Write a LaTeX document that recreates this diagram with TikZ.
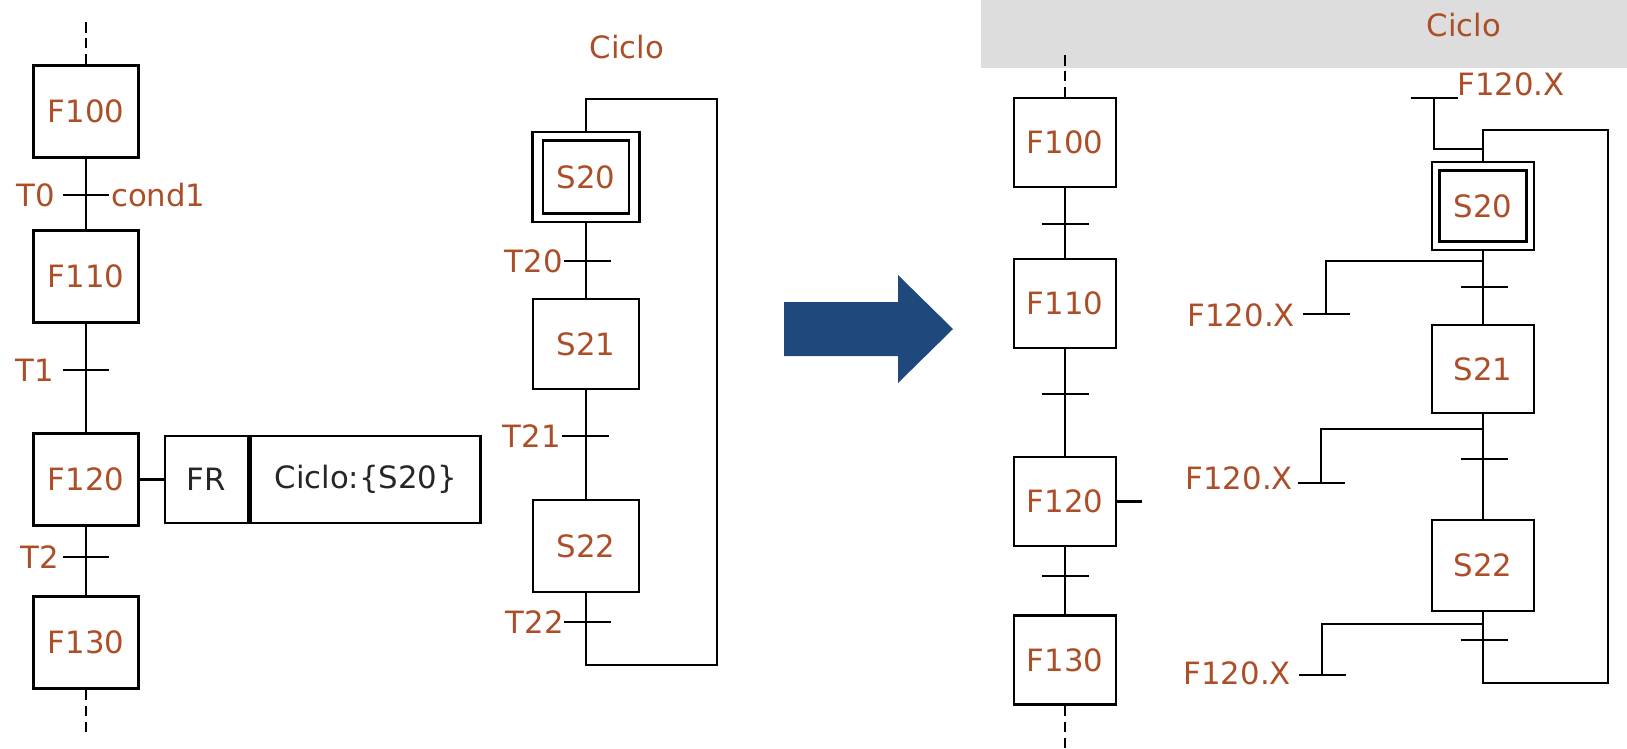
\documentclass[tikz,border=0pt]{standalone}
\usepackage{fontspec}
\setmainfont{DejaVu Sans}
\usetikzlibrary{positioning}

\definecolor{steptext}{RGB}{172,78,40}
\definecolor{arrowblue}{RGB}{31,73,125}
\definecolor{bandgray}{RGB}{221,221,221}

\begin{document}
\begin{tikzpicture}[x=0.02cm, y=-0.02cm, line join=miter,
    wire/.style={line width=1.6pt},
    cut/.style={line width=1.6pt, dash pattern=on 6pt off 3pt},
    stepbox/.style={draw, line width=1.6pt, minimum width=2.1cm, minimum height=1.84cm,
      inner sep=0pt, font=\fontsize{17.5}{20}\selectfont, text=steptext},
    mstep/.style={stepbox, minimum width=2.12cm, minimum height=1.8cm},
    rstep/.style={stepbox, minimum width=2.04cm, minimum height=1.78cm},
    actbox/.style={draw, line width=1.6pt, minimum height=1.74cm, inner sep=0pt,
      font=\fontsize{17.5}{20}\selectfont, text=black!85},
    lbl/.style={font=\fontsize{17.5}{20}\selectfont, text=steptext, inner sep=1pt}]
  \useasboundingbox (0,0) rectangle (1627,748);

  % left chart: F100 .. F130
  \node[stepbox] (f100) at (86,111.5) {F100};
  \node[stepbox] (f110) at (86,276.5) {F110};
  \node[stepbox] (f120) at (86,479.5) {F120};
  \node[stepbox] (f130) at (86,642.5) {F130};
  \coordinate (ltop) at (86,22);
  \coordinate (lbot) at (86,735);
  \coordinate (t0) at (86,195);
  \coordinate (t1) at (86,370);
  \coordinate (t2) at (86,557);
  \draw[cut] (ltop) -- (f100.north);
  \draw[wire] (f100) -- (f110);
  \draw[wire] (f110) -- (f120);
  \draw[wire] (f120) -- (f130);
  \draw[cut] (f130.south) -- (lbot);
  \node[lbl, left] (t0lbl) at (57,195) {T0};
  \node[lbl, right] (c1lbl) at (109,195) {cond1};
  \node[lbl, left] (t1lbl) at (56,370) {T1};
  \node[lbl, left] (t2lbl) at (61,557) {T2};

  % forcing order on F120
  \node[actbox, minimum width=1.66cm] (fr) at (206.5,479.5) {FR};
  \node[actbox, minimum width=4.6cm, anchor=west] (act) at (fr.east) {Ciclo:\{S20\}};
  \draw[line width=2.6pt] (fr.north east) -- (fr.south east);
  \draw[wire] (f120) -- (fr);

  % Ciclo, before
  \node[lbl] (ciclo1) at (627,47) {Ciclo};
  \node[mstep, minimum width=2.14cm] (s20) at (586,177) {};
  \node[mstep, minimum width=1.72cm, minimum height=1.46cm] (s20in) at (s20) {S20};
  \node[mstep] (s21) at (586,344) {S21};
  \node[mstep, minimum height=1.84cm] (s22) at (586,546) {S22};
  \coordinate (t20) at (587,261);
  \coordinate (t21) at (585,436);
  \coordinate (t22) at (587,622);
  \coordinate (m1) at (586,99);
  \coordinate (m2) at (717,99);
  \coordinate (m3) at (717,665);
  \coordinate (m4) at (586,665);
  \draw[wire] (s20) -- (s21);
  \draw[wire] (s21) -- (s22);
  \draw[wire] (s22.south) -- (m4) -- (m3) -- (m2) -- (m1) -- (s20.north);
  \node[lbl, left] (t20lbl) at (565,261) {T20};
  \node[lbl, left] (t21lbl) at (563,436) {T21};
  \node[lbl, left] (t22lbl) at (566,622) {T22};

  % big arrow
  \fill[arrowblue] (784,302) -- (898,302) -- (898,275) -- (953,329)
    -- (898,383) -- (898,356) -- (784,356) -- cycle;

  % right chart
  \fill[bandgray] (981,0) rectangle (1627,68);
  \node[lbl] (ciclo2) at (1464,25) {Ciclo};
  \node[rstep] (rf100) at (1065,142.5) {F100};
  \node[rstep] (rf110) at (1065,303.5) {F110};
  \node[rstep] (rf120) at (1065,501.5) {F120};
  \node[rstep] (rf130) at (1065,660) {F130};
  \coordinate (rtop) at (1065,55);
  \coordinate (rbot) at (1065,748);
  \coordinate (rt0) at (1065,224);
  \coordinate (rt1) at (1065,394);
  \coordinate (rt2) at (1065,576);
  \coordinate (stub) at (1142,501.5);
  \draw[cut] (rtop) -- (rf100.north);
  \draw[wire] (rf100) -- (rf110);
  \draw[wire] (rf110) -- (rf120);
  \draw[wire] (rf120) -- (rf130);
  \draw[cut] (rf130.south) -- (rbot);
  \draw[wire] (rf120) -- (stub);

  \node[rstep, minimum height=1.76cm] (rs20) at (1483,206) {};
  \node[rstep, minimum width=1.74cm, minimum height=1.42cm] (rs20in) at (rs20) {S20};
  \node[rstep, minimum height=1.76cm] (rs21) at (1483,369) {S21};
  \node[rstep, minimum height=1.82cm] (rs22) at (1483,565.5) {S22};
  \coordinate (rt20) at (1484,287);
  \coordinate (rt21) at (1484,459);
  \coordinate (rt22) at (1484,640);
  \coordinate (rl1) at (1483,130);
  \coordinate (rl2) at (1608,130);
  \coordinate (rl3) at (1608,683);
  \coordinate (rl4) at (1483,683);
  \draw[wire] (rs20) -- (rs21);
  \draw[wire] (rs21) -- (rs22);
  \draw[wire] (rs22.south) -- (rl4) -- (rl3) -- (rl2) -- (rl1) -- (rs20.north);

  % F120.X conditions
  \coordinate (rb0) at (1434,98);
  \coordinate (rj0) at (1434,149);
  \coordinate (rm0) at (1483,149);
  \coordinate (rm1) at (1483,261);
  \coordinate (rj1) at (1326,261);
  \coordinate (rb1) at (1326,314);
  \coordinate (rm2) at (1483,429);
  \coordinate (rj2) at (1321,429);
  \coordinate (rb2) at (1321,483);
  \coordinate (rm3) at (1483,624);
  \coordinate (rj3) at (1322,624);
  \coordinate (rb3) at (1322,675);
  \draw[wire] (rb0) -- (rj0) -- (rm0);
  \draw[wire] (rm1) -- (rj1) -- (rb1);
  \draw[wire] (rm2) -- (rj2) -- (rb2);
  \draw[wire] (rm3) -- (rj3) -- (rb3);
  \node[lbl, anchor=base west, inner sep=0pt] (rx0) at (1457,95) {F120.X};
  \node[lbl, left] (rx1) at (1297,315) {F120.X};
  \node[lbl, left] (rx2) at (1295,478) {F120.X};
  \node[lbl, left] (rx3) at (1293,673) {F120.X};

  % transition bars
  \foreach \t in {t0,t1,t2,t20,t21,t22,rt0,rt1,rt2,rt20,rt21,rt22,rb0,rb1,rb2,rb3}
    \draw[wire] ([xshift=-0.47cm]\t) -- ([xshift=0.47cm]\t);
\end{tikzpicture}
\end{document}
